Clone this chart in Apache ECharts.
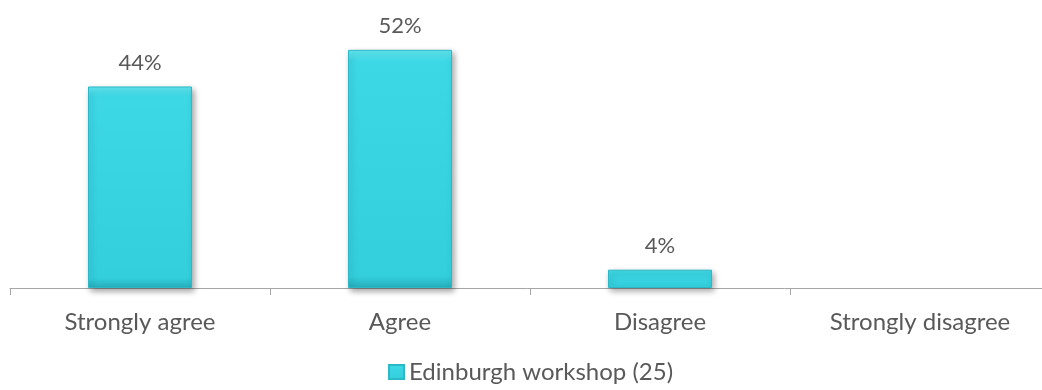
<!DOCTYPE html>
<html><head><meta charset="utf-8">
<script src="https://cdn.jsdelivr.net/npm/echarts@6/dist/echarts.min.js"></script>
<style>html,body{margin:0;padding:0;background:#fff}#c{width:1042px;height:390px}</style>
</head><body><div id="c"></div>
<script>
const categories = ['Strongly agree', 'Agree', 'Disagree', 'Strongly disagree'];
const seriesName = 'Edinburgh workshop (25)';
const values = [44, 52, 4, null];

const chart = echarts.init(document.getElementById('c'), null, {renderer: 'canvas'});
const barColor = new echarts.graphic.LinearGradient(0, 0, 0, 1, [
  {offset: 0, color: '#62E9F4'},
  {offset: 0.05, color: '#3DD8E6'},
  {offset: 0.95, color: '#33CFDD'},
  {offset: 1, color: '#27AEBB'}
]);
chart.setOption({
  animation: false,
  textStyle: {fontFamily: 'Lato'},
  grid: {left: 10, width: 1040, top: 13.2, bottom: 102, containLabel: false, outerBoundsMode: 'none'},
  legend: {
    bottom: 1, left: 383, itemWidth: 15, itemHeight: 14, itemGap: 7,
    textStyle: {color: '#595959', fontSize: 24, fontFamily: 'Lato'},
    data: [{name: seriesName, icon: 'rect'}]
  },
  xAxis: {
    type: 'category', data: categories,
    axisLine: {lineStyle: {color: '#A6A6A6', width: 1}},
    axisTick: {show: true, length: 7, lineStyle: {color: '#A6A6A6'}},
    axisLabel: {color: '#595959', fontSize: 24, margin: 22, fontFamily: 'Lato'}
  },
  yAxis: {type: 'value', min: 0, max: 60, show: false, splitLine: {show: false}},
  series: [{
    name: seriesName, type: 'bar', data: values, barWidth: '40%',
    itemStyle: {
      color: barColor, borderColor: '#2CB8C6', borderWidth: 1,
      shadowColor: 'rgba(0,0,0,0.35)', shadowBlur: 6, shadowOffsetX: 2, shadowOffsetY: 3
    },
    label: {show: true, position: 'top', distance: 13, color: '#595959', fontSize: 22,
      fontFamily: 'Lato', formatter: p => p.value == null ? '' : p.value + '%'}
  }]
});
</script></body></html>
